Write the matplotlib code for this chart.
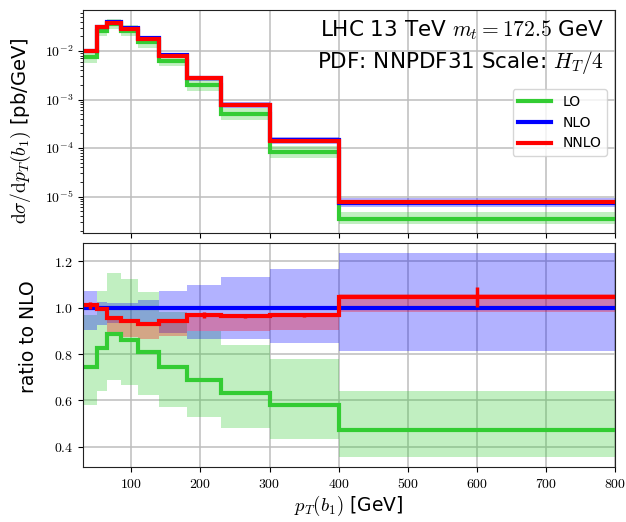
import numpy as np
import matplotlib
matplotlib.use("Agg")
import matplotlib.pyplot as plt
from matplotlib.ticker import FuncFormatter, LogLocator, NullFormatter

plt.rcParams['mathtext.fontset'] = 'cm'
plt.rcParams['font.family'] = ['DejaVu Sans']

# ---- data ----
edges = [30, 50, 65, 85, 110, 140, 180, 230, 300, 400, 800]
nnlo_xs = [1.00e-2, 3.16e-2, 3.84e-2, 2.84e-2, 1.74e-2, 7.9e-3, 2.74e-3, 7.6e-4, 1.40e-4, 7.9e-6]

ratio_lo = [0.746, 0.828, 0.886, 0.861, 0.811, 0.746, 0.689, 0.632, 0.579, 0.471]
ratio_lo_up = [0.97, 1.073, 1.152, 1.126, 1.069, 0.98, 0.90, 0.84, 0.778, 0.639]
ratio_lo_dn = [0.581, 0.643, 0.689, 0.668, 0.624, 0.574, 0.528, 0.481, 0.435, 0.357]

ratio_nlo = [1.0] * 10
ratio_nlo_up = [1.072, 1.026, 1.02, 1.022, 1.034, 1.072, 1.10, 1.131, 1.169, 1.237]
ratio_nlo_dn = [0.905, 0.926, 0.935, 0.935, 0.925, 0.89, 0.864, 0.864, 0.847, 0.814]

ratio_nnlo = [1.011, 0.997, 0.954, 0.943, 0.930, 0.944, 0.969, 0.964, 0.967, 1.047]
ratio_nnlo_up = [1.02, 1.005, 0.962, 0.952, 0.94, 0.952, 0.975, 0.97, 0.972, 1.06]
ratio_nnlo_dn = [1.0, 0.985, 0.885, 0.875, 0.865, 0.88, 0.90, 0.90, 0.905, 0.983]
ratio_nnlo_err = [0.015, 0.006, 0.004, 0.004, 0.004, 0.005, 0.012, 0.006, 0.006, 0.043]

ticks_x = [100, 200, 300, 400, 500, 600, 700, 800]
ticks_ratio = [0.4, 0.6, 0.8, 1.0, 1.2]

# ---- derived absolute cross sections ----
e = np.array(edges, dtype=float)
nnlo = np.array(nnlo_xs)
nlo = nnlo / np.array(ratio_nnlo)

series = [
    ("LO", "#33cc33", np.array(ratio_lo), np.array(ratio_lo_up), np.array(ratio_lo_dn)),
    ("NLO", "#0000ff", np.array(ratio_nlo), np.array(ratio_nlo_up), np.array(ratio_nlo_dn)),
    ("NNLO", "#ff0000", np.array(ratio_nnlo), np.array(ratio_nnlo_up), np.array(ratio_nnlo_dn)),
]

fig = plt.figure(figsize=(6.26, 5.22), dpi=100)
ax1 = fig.add_axes([0.1326, 0.553, 0.8498, 0.428])
ax2 = fig.add_axes([0.1326, 0.1054, 0.8498, 0.4296], sharex=ax1)

for name, col, r, ru, rd in series:
    ax1.stairs(ru * nlo, e, baseline=rd * nlo, fill=True, color=col, alpha=0.3, lw=0)
    ax2.stairs(ru, e, baseline=rd, fill=True, color=col, alpha=0.3, lw=0)
for name, col, r, ru, rd in series:
    ax1.stairs(r * nlo, e, color=col, lw=3, label=name, baseline=None)
    ax2.stairs(r, e, color=col, lw=3, baseline=None)

centers = 0.5 * (e[1:] + e[:-1])
ax2.errorbar(centers, ratio_nnlo, yerr=ratio_nnlo_err, fmt='none', ecolor='#ff0000', elinewidth=2.5, capsize=0)

ax1.set_yscale('log')
ax1.set_ylim(1.76e-6, 0.0698)
ax1.set_xlim(30, 800)
ax2.set_ylim(0.313, 1.281)

ax1.yaxis.set_major_locator(LogLocator(base=10, numticks=10))
ax1.yaxis.set_minor_locator(LogLocator(base=10, subs=np.arange(2, 10), numticks=20))
ax1.yaxis.set_major_formatter(FuncFormatter(lambda v, p: r'$10^{%d}$' % int(round(np.log10(v)))))
ax1.yaxis.set_minor_formatter(NullFormatter())
plt.setp(ax1.get_xticklabels(), visible=False)

ax2.set_xticks(ticks_x)
ax2.xaxis.set_major_formatter(FuncFormatter(lambda v, p: r'$%d$' % v))
ax2.set_yticks(ticks_ratio)
ax2.yaxis.set_major_formatter(FuncFormatter(lambda v, p: r'$%.1f$' % v))

for ax in (ax1, ax2):
    ax.grid(True, which='major', color='#bdbdbd', lw=1.1)
    ax.set_axisbelow(True)
    ax.tick_params(labelsize=10)
    for s in ax.spines.values():
        s.set_color('#222222')

ax1.set_ylabel(r'$\mathrm{d}\sigma/\mathrm{d}p_T(b_1)$ [pb/GeV]', fontsize=14)
ax1.yaxis.set_label_coords(-0.094, 0.46)
ax2.set_ylabel('ratio to NLO', fontsize=13.5)
ax2.yaxis.set_label_coords(-0.085, 0.58)
ax2.set_xlabel(r'$p_T(b_1)$ [GeV]', fontsize=13.5)
ax2.xaxis.labelpad = 2

ax1.text(0.98, 0.91, r'LHC 13 TeV $m_t = 172.5$ GeV', transform=ax1.transAxes,
         ha='right', va='center', fontsize=15.5)
ax1.text(0.98, 0.765, r'PDF: NNPDF31 Scale: $H_T/4$', transform=ax1.transAxes,
         ha='right', va='center', fontsize=15.5)

leg = ax1.legend(loc='upper right', bbox_to_anchor=(0.985, 0.646), borderaxespad=0,
                 fontsize=10, handlelength=2.4, framealpha=0.8)

fig.savefig('out.png', dpi=100)
